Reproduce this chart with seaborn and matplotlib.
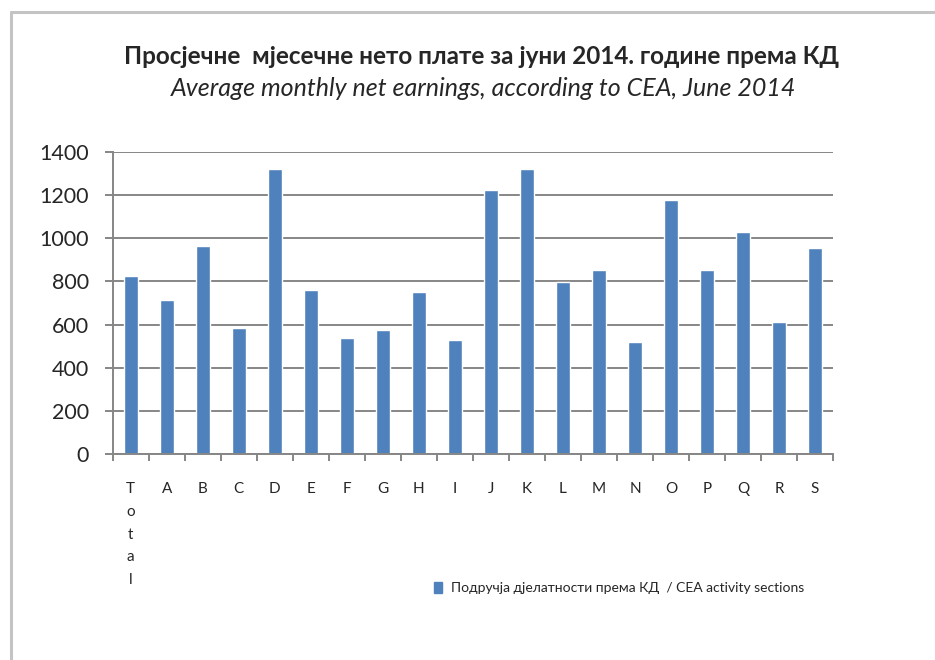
import matplotlib
matplotlib.use('Agg')
import matplotlib.pyplot as plt
import seaborn as sns
from matplotlib.lines import Line2D
from matplotlib.patches import Patch

sections = ['Total', 'A', 'B', 'C', 'D', 'E', 'F', 'G', 'H', 'I', 'J',
            'K', 'L', 'M', 'N', 'O', 'P', 'Q', 'R', 'S']
earnings = [825, 714, 964, 583, 1322, 760, 538, 575, 751, 529, 1223,
            1320, 799, 853, 521, 1177, 853, 1030, 612, 953]
tick_labels = ['T\no\nt\na\nl'] + sections[1:]

title_sr = 'Просјечне  мјесечне нето плате за јуни 2014. године према КД'
title_en = 'Average monthly net earnings, according to CEA, June 2014'
legend_label = 'Подручја дјелатности према КД  / CEA activity sections'

bar_color = '#4F81BD'
grid_color = '#868686'

sns.set_style('white')
plt.rcParams['font.family'] = ['Lato', 'DejaVu Sans']

fig = plt.figure(figsize=(9.35, 6.6), dpi=100)
ax = fig.add_axes([0.1205, 0.3117, 0.7705, 0.4585])

sns.barplot(x=sections, y=earnings, color=bar_color, width=0.39,
            saturation=1, ax=ax)

ax.set_ylim(0, 1400)
ax.set_xlim(-0.5, len(sections) - 0.5)
ax.set_yticks(range(0, 1401, 200))
ax.yaxis.grid(True, color=grid_color, linewidth=1.4)
ax.set_axisbelow(True)
for s in ['top', 'right']:
    ax.spines[s].set_visible(False)
for s in ['left', 'bottom']:
    ax.spines[s].set_color(grid_color)
    ax.spines[s].set_linewidth(1.4)

ax.set_xticks(range(len(sections)))
ax.set_xticklabels(tick_labels, fontsize=11, linespacing=1.8)
ax.set_xticks([i - 0.5 for i in range(len(sections) + 1)], minor=True)
ax.tick_params(axis='x', which='major', length=0, pad=20)
ax.tick_params(axis='x', which='minor', length=5, width=1.4, color=grid_color,
               direction='out', bottom=True)
ax.tick_params(axis='y', length=6, width=1.4, color=grid_color, direction='out',
               left=True, labelsize=15.5, pad=11)
ax.set_xlabel('')
ax.set_ylabel('')

fig.text(0.515, 1 - 57 / 660, title_sr, ha='center', va='center',
         fontsize=17.5, fontweight='bold')
fig.text(0.517, 1 - 88 / 660, title_en, ha='center', va='center',
         fontsize=18, fontstyle='italic')

handle = Patch(facecolor=bar_color, edgecolor=bar_color)
fig.legend(handles=[handle], labels=[legend_label], loc='center',
           bbox_to_anchor=(619 / 935, 1 - 588 / 660), frameon=False,
           fontsize=10, handlelength=0.6, handleheight=0.8, handletextpad=0.6)

# outer frame
fig.add_artist(Line2D([11 / 935, 11 / 935], [0, 1 - 12 / 660],
                      color='#c4c4c4', linewidth=2.2))
fig.add_artist(Line2D([11 / 935, 1], [1 - 12 / 660, 1 - 12 / 660],
                      color='#c4c4c4', linewidth=2.2))

fig.savefig('out.png', dpi=100)
